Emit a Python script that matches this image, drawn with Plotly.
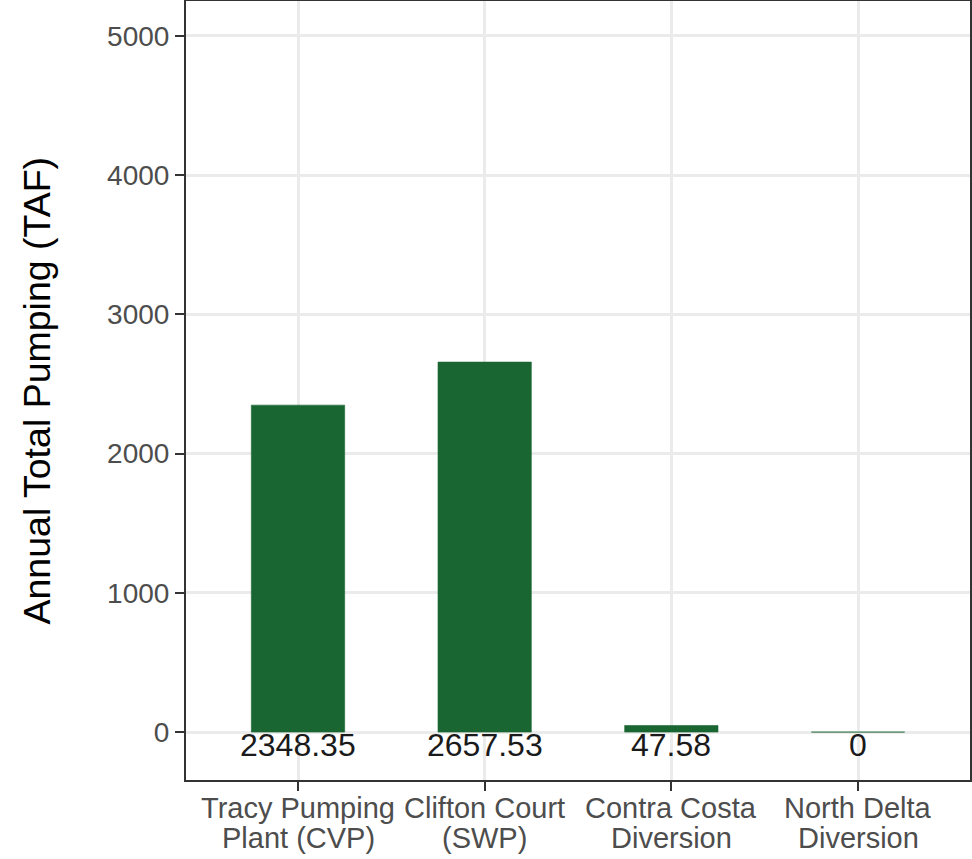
import plotly.graph_objects as go

categories = ["Tracy Pumping Plant (CVP)", "Clifton Court (SWP)", "Contra Costa Diversion", "North Delta Diversion"]
cat_line1 = ["Tracy Pumping", "Clifton Court", "Contra Costa", "North Delta"]
cat_line2 = ["Plant (CVP)", "(SWP)", "Diversion", "Diversion"]
values = [2348.35, 2657.53, 47.58, 0]
labels = ["2348.35", "2657.53", "47.58", "0"]
y_ticks = [0, 1000, 2000, 3000, 4000, 5000]

FONT = "Liberation Sans, Arial"

fig = go.Figure()
fig.add_trace(go.Bar(x=categories, y=values, width=0.5,
                     marker=dict(color="#1A6633", line=dict(width=0.6, color="#1A6633")),
                     showlegend=False, hoverinfo="skip"))

annotations = []
for c, lab in zip(categories, labels):
    annotations.append(dict(x=c, y=0, xref="x", yref="y", text=lab, showarrow=False,
                            xanchor="center", yanchor="middle", yshift=-13,
                            font=dict(family=FONT, size=32, color="#1a1a1a")))
for c, l1, l2 in zip(categories, cat_line1, cat_line2):
    annotations.append(dict(x=c, y=0, xref="x", yref="paper", text=l1, showarrow=False,
                            xanchor="center", yanchor="middle", yshift=-28,
                            font=dict(family=FONT, size=29, color="#4D4D4D")))
    annotations.append(dict(x=c, y=0, xref="x", yref="paper", text=l2, showarrow=False,
                            xanchor="center", yanchor="middle", yshift=-58,
                            font=dict(family=FONT, size=29, color="#4D4D4D")))
annotations.append(dict(x=0, y=0.5, xref="paper", yref="paper", text="Annual Total Pumping (TAF)",
                        showarrow=False, textangle=-90, xanchor="center", yanchor="middle",
                        xshift=-150, yshift=0,
                        font=dict(family=FONT, size=37.5, color="black")))

fig.update_layout(
    width=972, height=859,
    margin=dict(l=186, r=2, t=1, b=79),
    plot_bgcolor="white", paper_bgcolor="white",
    font=dict(family=FONT),
    annotations=annotations,
)
fig.update_xaxes(
    range=[-0.6, 3.6], showgrid=True, gridcolor="#EBEBEB", gridwidth=2.5,
    showline=True, linecolor="#333333", linewidth=2, mirror=True,
    ticks="outside", ticklen=9, tickwidth=2, tickcolor="#333333",
    showticklabels=False, zeroline=False, automargin=False,
)
fig.update_yaxes(
    range=[-344, 5251], tickvals=y_ticks, ticktext=[str(v) for v in y_ticks],
    showgrid=True, gridcolor="#EBEBEB", gridwidth=2.5,
    showline=True, linecolor="#333333", linewidth=2, mirror=True,
    ticks="outside", ticklen=9, tickwidth=2, tickcolor="#333333",
    tickfont=dict(size=28, color="#4D4D4D"), zeroline=False, automargin=False,
)

fig.write_html("out.html", config={"displayModeBar": False},
               post_script="document.body.style.margin='0';document.body.style.padding='0';")
